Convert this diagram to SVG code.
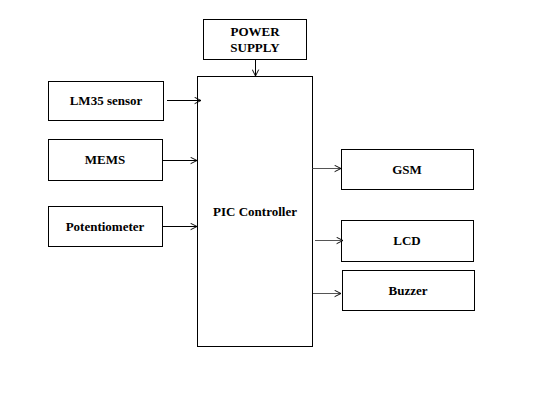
<svg xmlns="http://www.w3.org/2000/svg" width="560" height="412" viewBox="0 0 560 412">
<style>
.box{fill:#fff;stroke:#000;stroke-width:1}
.t{font-family:'Liberation Serif','Times New Roman','DejaVu Serif',serif;font-weight:bold;font-size:13px;text-anchor:middle;fill:#000}
.c{stroke:#000;stroke-width:1;fill:none;marker-end:url(#a)}
.g{stroke:#555}
</style>
<defs>
<marker id="a" viewBox="0 0 10 10" refX="9" refY="5" markerWidth="8" markerHeight="8" markerUnits="userSpaceOnUse" orient="auto">
<path d="M1,1 L9,5 L1,9" fill="none" stroke="#000" stroke-width="1.2"/>
</marker>
</defs>
<rect width="560" height="412" fill="#fff"/>
<g id="power"><rect class="box" x="203.5" y="19.5" width="103" height="40"/><text class="t" x="255" y="36">POWER</text><text class="t" x="255" y="52">SUPPLY</text></g>
<g id="pic"><rect class="box" x="197.5" y="76.5" width="115" height="270"/><text class="t" x="255" y="216">PIC Controller</text></g>
<g id="lm35"><rect class="box" x="48.5" y="81.5" width="115" height="39"/><text class="t" x="106" y="105">LM35 sensor</text></g>
<g id="mems"><rect class="box" x="48.5" y="139.5" width="114" height="41"/><text class="t" x="105" y="164">MEMS</text></g>
<g id="pot"><rect class="box" x="48.5" y="206.5" width="114" height="40"/><text class="t" x="105" y="231">Potentiometer</text></g>
<g id="gsm"><rect class="box" x="341.5" y="149.5" width="132" height="40"/><text class="t" x="407" y="174">GSM</text></g>
<g id="lcd"><rect class="box" x="341.5" y="220.5" width="132" height="41"/><text class="t" x="407" y="245">LCD</text></g>
<g id="buzzer"><rect class="box" x="342.5" y="270.5" width="132" height="40"/><text class="t" x="408" y="295">Buzzer</text></g>
<g id="connectors">
<line class="c" x1="255.5" y1="59.5" x2="255.5" y2="76"/>
<line class="c" x1="167" y1="100.5" x2="201" y2="100.5"/>
<line class="c" x1="162.5" y1="160.5" x2="197" y2="160.5"/>
<line class="c" x1="162.5" y1="226.5" x2="197" y2="226.5"/>
<line class="c g" x1="312.5" y1="168.5" x2="341" y2="168.5"/>
<line class="c g" x1="315" y1="240.5" x2="343" y2="240.5"/>
<line class="c g" x1="313" y1="293.5" x2="341" y2="293.5"/>
</g>
</svg>
